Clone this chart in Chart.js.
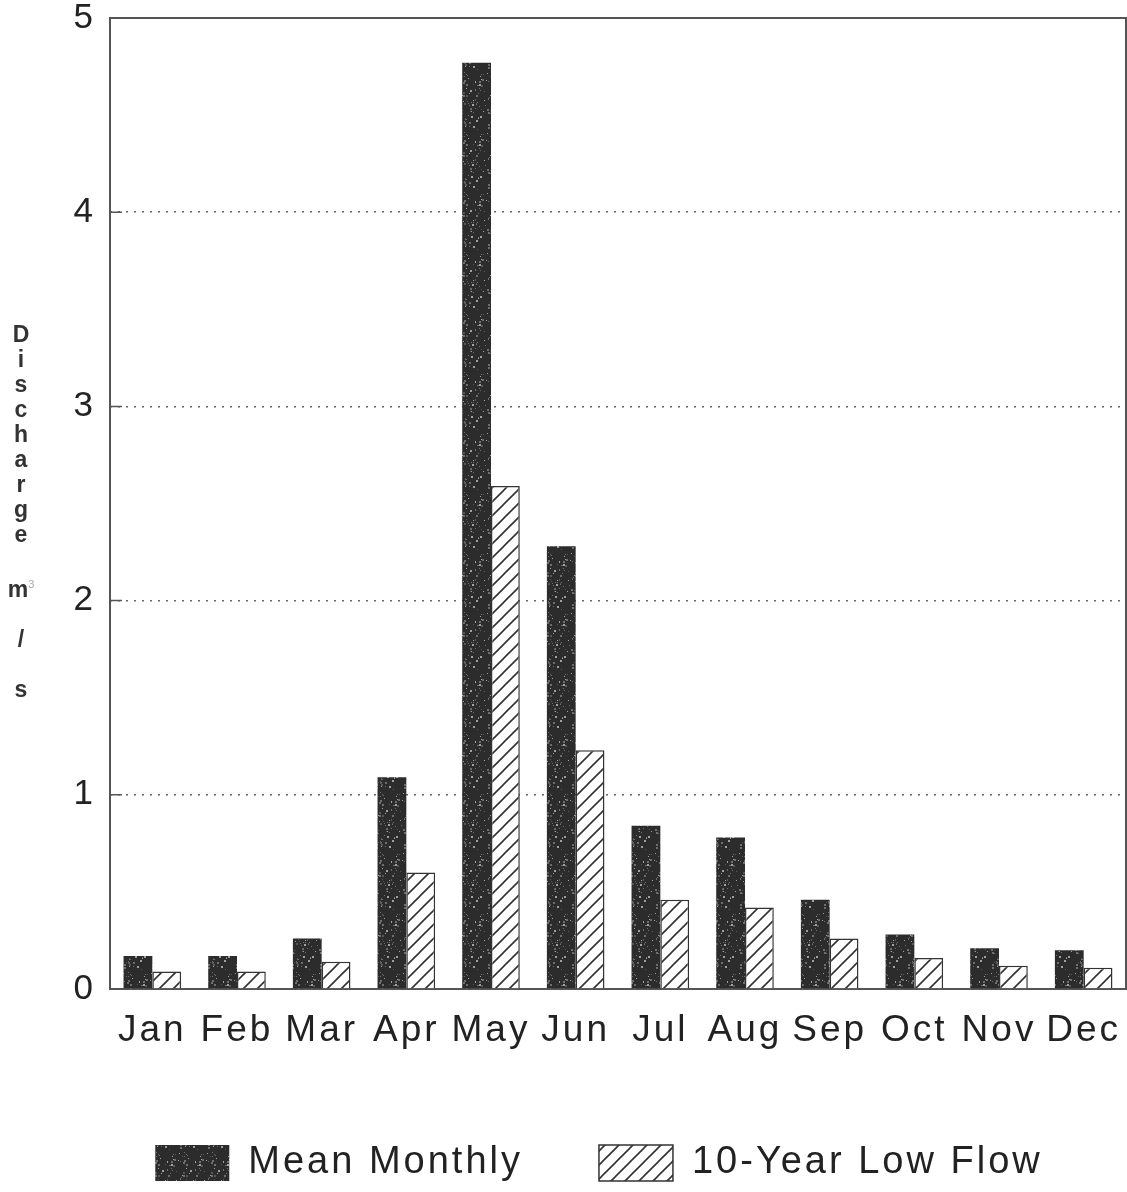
<!DOCTYPE html>
<html>
<head>
<meta charset="utf-8">
<script src="https://cdn.jsdelivr.net/npm/chart.js@4/dist/chart.umd.min.js"></script>
<style>
  html, body { margin: 0; padding: 0; background: #fff; }
  #wrap { position: relative; width: 1127px; height: 1192px; }
  canvas { display: block; }
  #ytitle {
    position: absolute; left: 7px; top: 322px; width: 28px;
    font-family: "Liberation Sans", Arial, sans-serif; font-size: 23px; font-weight: bold;
    line-height: 25px; color: #333; text-align: center;
  }
  #ytitle sup { font-size: 11px; color: #aaa; font-weight: normal; }
</style>
</head>
<body>
<div id="wrap">
  <canvas id="c" width="1127" height="1192"></canvas>
  <div id="ytitle">D<br>i<br>s<br>c<br>h<br>a<br>r<br>g<br>e<br>&nbsp;<br>m<sup>3</sup><br>&nbsp;<br>/<br>&nbsp;<br>s</div>
</div>
<script>
const months = ["Jan","Feb","Mar","Apr","May","Jun","Jul","Aug","Sep","Oct","Nov","Dec"];
const meanMonthly = [0.17, 0.17, 0.26, 1.09, 4.77, 2.28, 0.84, 0.78, 0.46, 0.28, 0.21, 0.20];
const lowFlow10yr = [0.09, 0.09, 0.14, 0.60, 2.59, 1.23, 0.46, 0.42, 0.26, 0.16, 0.12, 0.11];
const seriesNames = ["Mean Monthly", "10-Year Low Flow"];
const yTicks = [0, 1, 2, 3, 4, 5];

function speckle() {
  const w = 28, h = 60;
  const c = document.createElement('canvas');
  c.width = w; c.height = h;
  const g = c.getContext('2d');
  g.fillStyle = '#2c2c2c'; g.fillRect(0, 0, w, h);
  for (let i = 0; i < 90; i++) {
    const hx = Math.abs(Math.sin(i * 12.9898) * 43758.5453) % 1;
    const hy = Math.abs(Math.sin(i * 78.233) * 12345.6789) % 1;
    const x = Math.floor(hx * w), y = Math.floor(hy * h);
    const s = (i % 3 === 0) ? 2 : 1;
    g.fillStyle = (i % 4 === 0) ? '#a0a0a0' : (i % 2 ? '#6e6e6e' : '#575757');
    g.fillRect(x, y, s, s);
  }
  return g.createPattern(c, 'repeat');
}
function hatch() {
  const n = 14;
  const c = document.createElement('canvas');
  c.width = n; c.height = n;
  const g = c.getContext('2d');
  g.fillStyle = '#fff'; g.fillRect(0, 0, n, n);
  g.strokeStyle = '#333'; g.lineWidth = 1.6;
  g.beginPath();
  g.moveTo(-1, n + 1); g.lineTo(n + 1, -1);
  g.moveTo(-1, 1); g.lineTo(1, -1);
  g.moveTo(n - 1, n + 1); g.lineTo(n + 1, n - 1);
  g.stroke();
  return g.createPattern(c, 'repeat');
}

const spacingPlugin = {
  id: 'spacing',
  beforeLayout(chart) { chart.ctx.letterSpacing = '3px'; },
  beforeDraw(chart) { chart.ctx.letterSpacing = '3px'; }
};

const framePlugin = {
  id: 'frame',
  afterLayout(chart) {
    if (chart.legend) { chart.legend.left += 36; chart.legend.right += 36; }
  },
  beforeDatasetsDraw(chart) {
    const { ctx, chartArea: a, scales } = chart;
    ctx.save();
    ctx.strokeStyle = '#555';
    ctx.lineWidth = 2;
    ctx.strokeRect(a.left, a.top, a.right - a.left, a.bottom - a.top);
    ctx.beginPath();
    [1, 2, 3, 4].forEach(v => {
      const y = scales.y.getPixelForValue(v);
      ctx.moveTo(a.left, y); ctx.lineTo(a.left + 12, y);
    });
    ctx.lineWidth = 1.5;
    ctx.stroke();
    ctx.restore();
  }
};

new Chart(document.getElementById('c'), {
  type: 'bar',
  data: {
    labels: months,
    datasets: [
      { label: seriesNames[0], data: meanMonthly, backgroundColor: speckle(), borderColor: '#2a2a2a', borderWidth: 0 },
      { label: seriesNames[1], data: lowFlow10yr, backgroundColor: hatch(), borderColor: '#333', borderWidth: 1.5 }
    ]
  },
  options: {
    responsive: false,
    devicePixelRatio: 1,
    animation: false,
    layout: { padding: { top: 18, right: 1, left: 0, bottom: 0 } },
    datasets: { bar: { categoryPercentage: 0.68, barPercentage: 1.0 } },
    plugins: {
      tooltip: { enabled: false },
      legend: {
        position: 'bottom',
        labels: {
          boxWidth: 74, boxHeight: 36, padding: 76,
          color: '#222',
          font: { family: '"Liberation Sans", Arial, sans-serif', size: 38 }
        }
      }
    },
    scales: {
      x: {
        grid: { display: false, drawTicks: false },
        border: { display: false },
        ticks: { color: '#222', padding: 20, maxRotation: 0,
          font: { family: '"Liberation Sans", Arial, sans-serif', size: 37 } },
        afterFit(s) { s.height = 79; s.paddingLeft = 0; s.paddingRight = 0; }
      },
      y: {
        min: 0, max: 5,
        afterBuildTicks(s) { s.ticks = yTicks.map(v => ({ value: v })); },
        grid: {
          drawTicks: false,
          color: c => (c.tick && (c.tick.value === 0 || c.tick.value === 5)) ? 'rgba(0,0,0,0)' : '#666',
          lineWidth: 1.5
        },
        border: { display: false, dash: [2, 6] },
        ticks: { color: '#222', padding: 14,
          font: { family: '"Liberation Sans", Arial, sans-serif', size: 35 } },
        afterFit(s) { s.width = 110; s.paddingTop = 0; s.paddingBottom = 0; }
      }
    }
  },
  plugins: [spacingPlugin, framePlugin]
});
</script>
</body>
</html>
